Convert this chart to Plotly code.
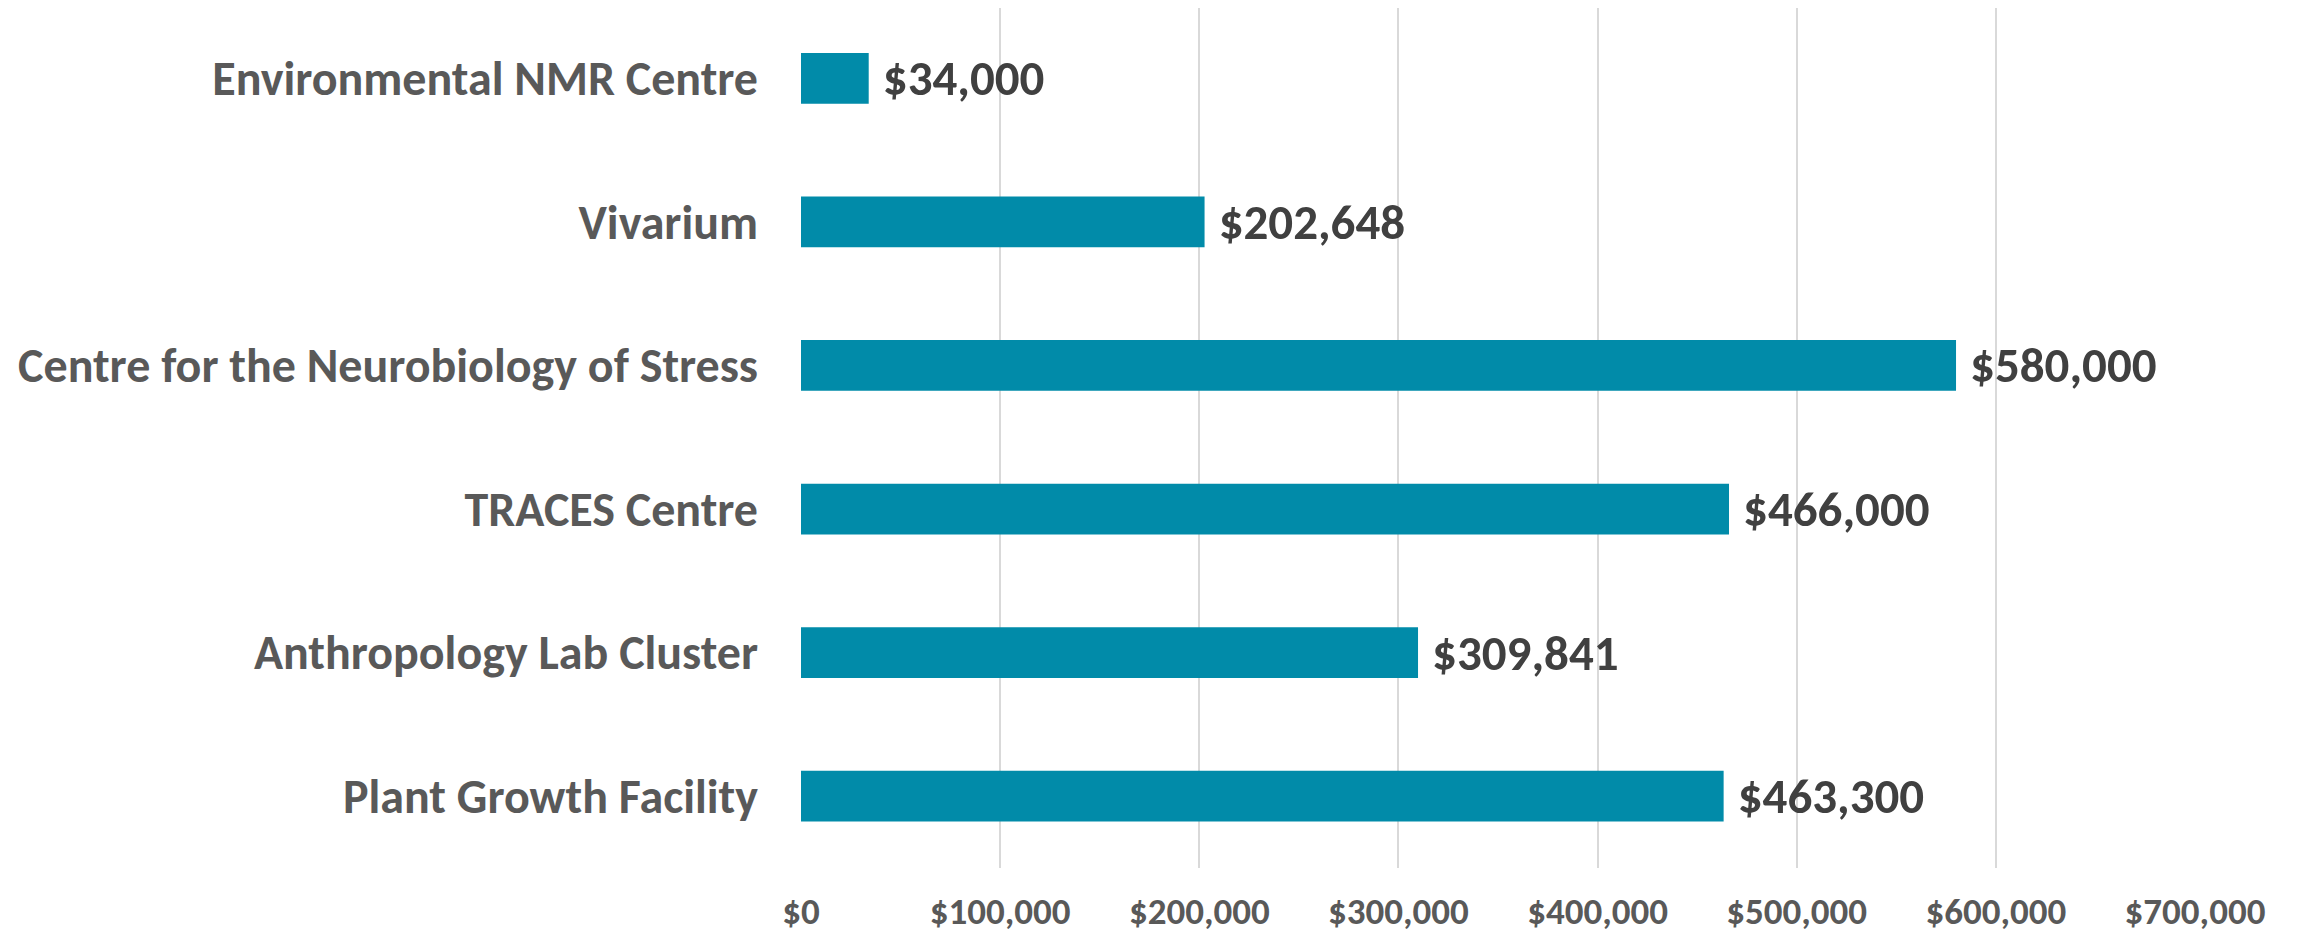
import plotly.graph_objects as go

categories = [
    "Environmental NMR Centre",
    "Vivarium",
    "Centre for the Neurobiology of Stress",
    "TRACES Centre",
    "Anthropology Lab Cluster",
    "Plant Growth Facility",
]
values = [34000, 202648, 580000, 466000, 309841, 463300]
tick_values = [0, 100000, 200000, 300000, 400000, 500000, 600000, 700000]
tick_labels = ["$0", "$100,000", "$200,000", "$300,000", "$400,000",
               "$500,000", "$600,000", "$700,000"]
value_labels = ["$34,000", "$202,648", "$580,000", "$466,000", "$309,841", "$463,300"]

FONT = "Carlito, Lato, 'Open Sans', sans-serif"

fig = go.Figure(
    go.Bar(
        y=categories,
        x=values,
        orientation="h",
        marker=dict(color="#018BA9", line=dict(width=0)),
        text=value_labels,
        texttemplate=" %{text}",
        textposition="outside",
        constraintext="none",
        cliponaxis=False,
        textfont=dict(family=FONT, size=49, color="#404040", weight="bold"),
        hoverinfo="skip",
    )
)

fig.update_layout(
    width=2289,
    height=926,
    margin=dict(l=793, r=102, t=0, b=66),
    plot_bgcolor="white",
    paper_bgcolor="white",
    bargap=0.647,
    showlegend=False,
    font=dict(family=FONT),
)
fig.update_xaxes(
    range=[0, 700000],
    tickmode="array",
    tickvals=tick_values,
    ticktext=tick_labels,
    showgrid=True,
    gridcolor="#D9D9D9",
    gridwidth=2,
    zeroline=False,
    showline=False,
    ticks="",
    ticklabelstandoff=18,
    tickfont=dict(family=FONT, size=37, color="#595959", weight="bold"),
    automargin=False,
)
fig.update_yaxes(
    range=[5.5, -0.4895],
    showgrid=False,
    zeroline=False,
    showline=False,
    ticks="",
    ticklabelstandoff=42,
    tickfont=dict(family=FONT, size=48, color="#595959", weight="bold"),
    automargin=False,
)

fig.write_html("out.html")
